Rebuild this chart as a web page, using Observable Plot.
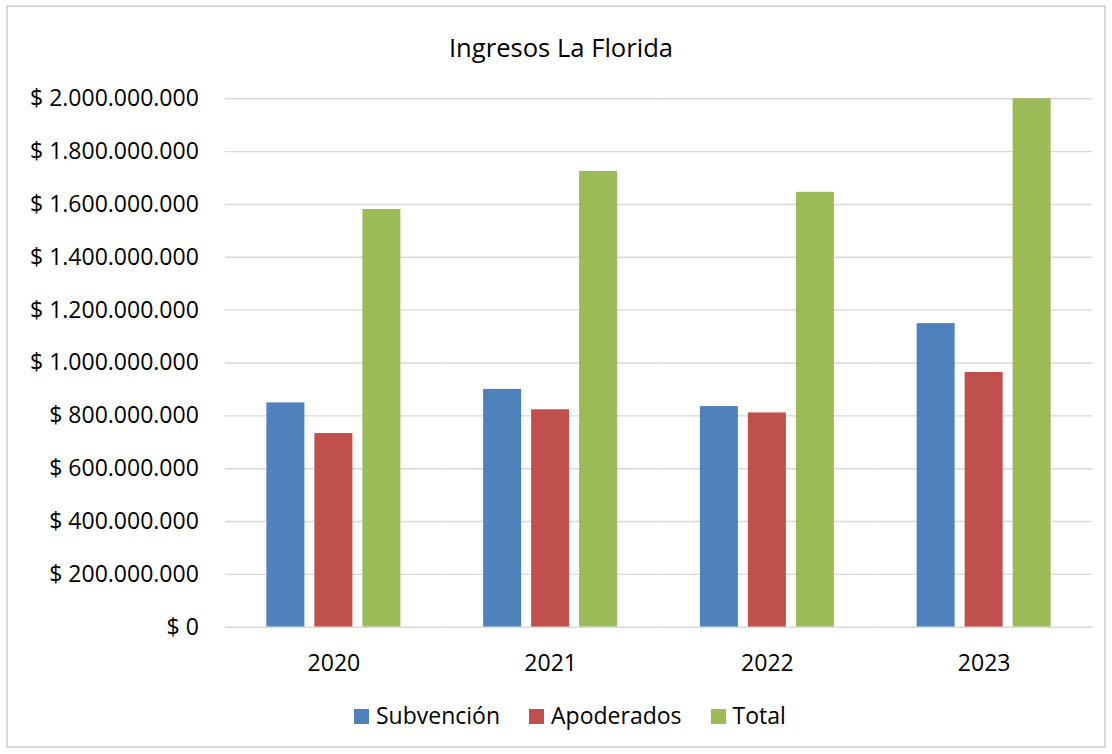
<!DOCTYPE html>
<html>
<head>
<meta charset="utf-8">
<script src="https://cdn.jsdelivr.net/npm/d3@7"></script>
<script src="https://cdn.jsdelivr.net/npm/@observablehq/plot@0.6"></script>
<style>
  html, body { margin: 0; padding: 0; background: #fff; }
  #wrap { position: relative; width: 1112px; height: 754px; font-family: "Open Sans", sans-serif; color: #000; overflow: hidden; }
  #frame { position: absolute; left: 6px; top: 5px; width: 1096px; height: 739px; border: 2px solid #d9d9d9; }
  #title { position: absolute; left: 0; width: 1122px; top: 30.6px; text-align: center; font-size: 25.6px; line-height: 1.362; white-space: nowrap; }
  #chart { position: absolute; left: 0; top: 0; }
  #legend { position: absolute; left: 354px; top: 700.4px; display: flex; align-items: flex-start; font-size: 23px; line-height: 1.362; white-space: nowrap; }
  .item { display: flex; align-items: flex-start; margin-right: 29px; }
  .sw { width: 15px; height: 15px; margin-top: 9px; margin-right: 7px; }
</style>
</head>
<body>
<div id="wrap">
  <div id="frame"></div>
  <div id="title">Ingresos La Florida</div>
  <div id="chart"></div>
  <div id="legend"></div>
</div>
<script>
const years = ["2020", "2021", "2022", "2023"];
const seriesNames = ["Subvención", "Apoderados", "Total"];
const subvencion = [849000000, 900000000, 835000000, 1149000000];
const apoderados = [733000000, 823000000, 811000000, 964000000];
const total = [1581000000, 1725000000, 1646000000, 2113000000];
const colors = ["#4F81BD", "#C0504D", "#9BBB59"];
const yTicks = [0, 200000000, 400000000, 600000000, 800000000, 1000000000, 1200000000, 1400000000, 1600000000, 1800000000, 2000000000];

const seriesValues = [subvencion, apoderados, total];
const data = [];
years.forEach((yr, i) => {
  seriesNames.forEach((s, j) => {
    data.push({year: yr, series: s, value: seriesValues[j][i]});
  });
});

const locale = d3.formatLocale({decimal: ",", thousands: ".", grouping: [3], currency: ["$ ", ""]});
const fmt = locale.format("$,.0f");

const chart = Plot.plot({
  width: 1112,
  height: 700,
  marginTop: 98.3,
  marginBottom: 73.3,
  marginLeft: 225,
  marginRight: 20,
  style: {fontFamily: "Open Sans, sans-serif", fontSize: "23px", color: "#000", background: "transparent"},
  fx: {domain: years, padding: 0, round: false, label: null},
  x: {domain: seriesNames, paddingInner: 0.208, paddingOuter: 0.862, round: false, axis: null},
  y: {domain: [0, 2000000000], ticks: yTicks, label: null},
  color: {domain: seriesNames, range: colors},
  marks: [
    Plot.gridY(yTicks, {stroke: "#d9d9d9", strokeOpacity: 1, strokeWidth: 1.4}),
    Plot.barY(data, {fx: "year", x: "series", y: "value", fill: "series", clip: true}),
    Plot.axisY(yTicks, {tickSize: 0, tickPadding: 26.7, tickFormat: fmt, fontSize: 23, label: null, anchor: "left"}),
    Plot.axisFx({tickSize: 0, tickPadding: 27, fontSize: 23, label: null, anchor: "bottom"})
  ]
});
document.getElementById("chart").appendChild(chart);

const legend = document.getElementById("legend");
seriesNames.forEach((s, j) => {
  const item = document.createElement("div");
  item.className = "item";
  const sw = document.createElement("div");
  sw.className = "sw";
  sw.style.background = colors[j];
  const label = document.createElement("span");
  label.textContent = s;
  item.appendChild(sw);
  item.appendChild(label);
  legend.appendChild(item);
});
</script>
</body>
</html>
